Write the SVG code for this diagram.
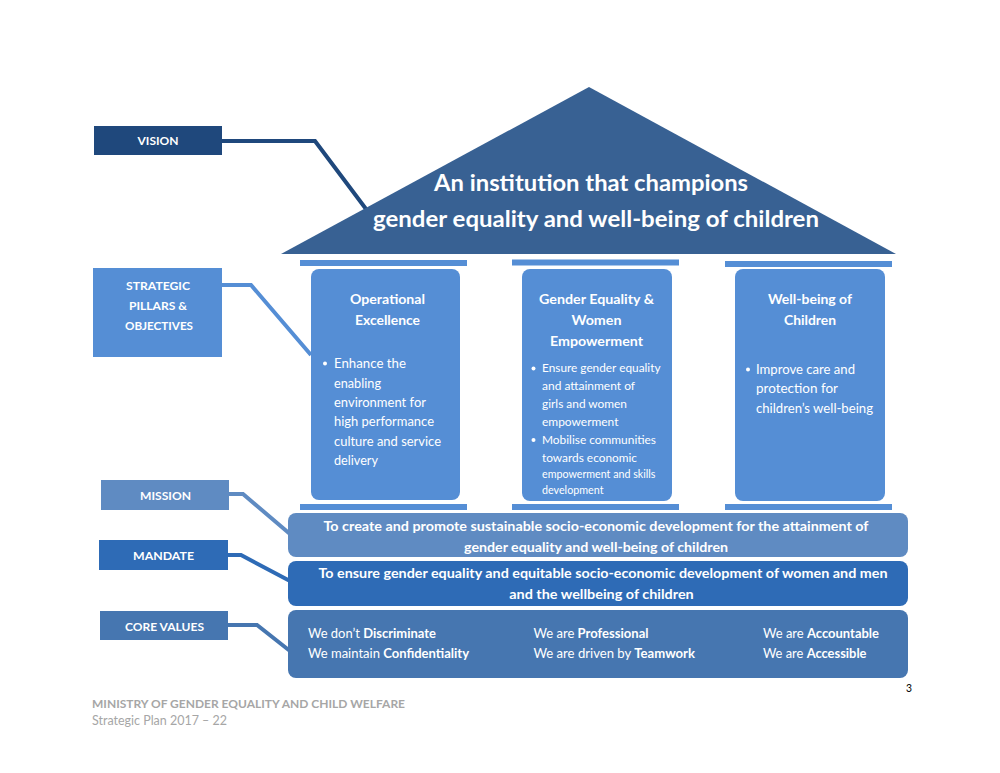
<svg xmlns="http://www.w3.org/2000/svg" width="1000" height="773" viewBox="0 0 1000 773">
<style>
text{font-family:Lato,"Open Sans","Liberation Sans",sans-serif;fill:#fff}
.b{font-weight:bold}
.lab{font-size:11.5px;font-weight:bold;text-anchor:middle}
.pt{font-size:13.5px;font-weight:bold;text-anchor:middle}
.bl{font-size:13px}
.bs{font-size:11.5px}
.bar{font-size:13.5px;font-weight:bold;text-anchor:middle}
.cv{font-size:12.5px}
.conn{fill:none;stroke-width:4;stroke-linejoin:miter}
.pil{fill:#558ED5}
</style>
<rect width="1000" height="773" fill="#fff"/>

<g id="connectors">
<polyline class="conn" stroke="#1F487C" points="221,141 315,141 366,209"/>
<polyline class="conn" stroke="#558ED5" points="222,285 251,285 311,355"/>
<polyline class="conn" stroke="#5F8BC2" points="228,494 243,494 290,534"/>
<polyline class="conn" stroke="#2E6BB6" points="226,555 241,555 290,581"/>
<polyline class="conn" stroke="#4676B0" points="227,625 257,625 290,651"/>
</g>

<g id="roof">
<polygon points="589,87 281,254 896,254" fill="#386193"/>
<text class="b" x="591" y="191" font-size="22" text-anchor="middle" textLength="314" lengthAdjust="spacingAndGlyphs">An institution that champions</text>
<text class="b" x="596" y="227" font-size="22" text-anchor="middle" textLength="446" lengthAdjust="spacingAndGlyphs">gender equality and well-being of children</text>
</g>

<g id="vision">
<rect x="94" y="126" width="128" height="29" fill="#1F487C"/>
<text class="lab" x="158" y="144.5" textLength="41" lengthAdjust="spacingAndGlyphs">VISION</text>
</g>

<g id="strategic">
<rect x="93" y="268" width="129" height="89" fill="#558ED5"/>
<text class="lab" x="158" y="290" textLength="64" lengthAdjust="spacingAndGlyphs">STRATEGIC</text>
<text class="lab" x="158" y="310" textLength="58" lengthAdjust="spacingAndGlyphs">PILLARS &amp;</text>
<text class="lab" x="159" y="329.5" textLength="68" lengthAdjust="spacingAndGlyphs">OBJECTIVES</text>
</g>

<g id="pillar1">
<rect class="pil" x="300" y="260" width="167" height="6"/>
<rect class="pil" x="311" y="269" width="149" height="231" rx="8"/>
<rect class="pil" x="300" y="504" width="167" height="6"/>
<text class="pt" x="387.5" y="304" textLength="75" lengthAdjust="spacingAndGlyphs">Operational</text>
<text class="pt" x="387.5" y="325" textLength="65" lengthAdjust="spacingAndGlyphs">Excellence</text>
<circle cx="325" cy="363.5" r="2" fill="#fff"/>
<text class="bl" x="334" y="367.5" textLength="72" lengthAdjust="spacingAndGlyphs">Enhance  the</text>
<text class="bl" x="334" y="388" textLength="47" lengthAdjust="spacingAndGlyphs">enabling</text>
<text class="bl" x="334" y="407" textLength="92" lengthAdjust="spacingAndGlyphs">environment for</text>
<text class="bl" x="334" y="426" textLength="100" lengthAdjust="spacingAndGlyphs">high performance</text>
<text class="bl" x="334" y="446" textLength="107" lengthAdjust="spacingAndGlyphs">culture and service</text>
<text class="bl" x="334" y="465" textLength="44" lengthAdjust="spacingAndGlyphs">delivery</text>
</g>

<g id="pillar2">
<rect class="pil" x="512" y="259.5" width="167" height="6"/>
<rect class="pil" x="522" y="269" width="150" height="232" rx="8"/>
<rect class="pil" x="512" y="504" width="167" height="6"/>
<text class="pt" x="596.5" y="304" textLength="115" lengthAdjust="spacingAndGlyphs">Gender Equality &amp;</text>
<text class="pt" x="596.5" y="325" textLength="50" lengthAdjust="spacingAndGlyphs">Women</text>
<text class="pt" x="596.5" y="346" textLength="93" lengthAdjust="spacingAndGlyphs">Empowerment</text>
<circle cx="533.5" cy="368.5" r="2" fill="#fff"/>
<text class="bs" x="542" y="372" textLength="118.5" lengthAdjust="spacingAndGlyphs">Ensure gender equality</text>
<text class="bs" x="542" y="390" textLength="93" lengthAdjust="spacingAndGlyphs">and attainment of</text>
<text class="bs" x="542" y="408" textLength="85" lengthAdjust="spacingAndGlyphs">girls and women</text>
<text class="bs" x="542" y="426" textLength="76.5" lengthAdjust="spacingAndGlyphs">empowerment</text>
<circle cx="533.5" cy="440" r="2" fill="#fff"/>
<text class="bs" x="542" y="444" textLength="114" lengthAdjust="spacingAndGlyphs">Mobilise communities</text>
<text class="bs" x="542" y="462" textLength="95" lengthAdjust="spacingAndGlyphs">towards economic</text>
<text class="bs" x="542" y="478" font-size="10.5" textLength="113.5" lengthAdjust="spacingAndGlyphs">empowerment and skills</text>
<text class="bs" x="542" y="493.5" font-size="10.5" textLength="61.5" lengthAdjust="spacingAndGlyphs">development</text>
</g>

<g id="pillar3">
<rect class="pil" x="725" y="261" width="167" height="6"/>
<rect class="pil" x="735" y="269" width="150" height="232" rx="8"/>
<rect class="pil" x="725" y="504" width="167" height="6"/>
<text class="pt" x="810" y="304" textLength="84" lengthAdjust="spacingAndGlyphs">Well-being of</text>
<text class="pt" x="810" y="325" textLength="52" lengthAdjust="spacingAndGlyphs">Children</text>
<circle cx="748" cy="369.5" r="2" fill="#fff"/>
<text class="bl" x="756" y="373.5" textLength="99" lengthAdjust="spacingAndGlyphs">Improve care and</text>
<text class="bl" x="756" y="393" textLength="82" lengthAdjust="spacingAndGlyphs">protection  for</text>
<text class="bl" x="756" y="413" textLength="117" lengthAdjust="spacingAndGlyphs">children’s well-being</text>
</g>

<g id="mission">
<rect x="101" y="480" width="128" height="30" fill="#5F8BC2"/>
<text class="lab" x="165.5" y="499.5" textLength="51" lengthAdjust="spacingAndGlyphs">MISSION</text>
<rect x="288" y="513" width="620" height="44" rx="8" fill="#5F8BC2"/>
<text class="bar" x="596" y="530.5" textLength="545" lengthAdjust="spacingAndGlyphs">To create and promote sustainable socio-economic development for the attainment of</text>
<text class="bar" x="596" y="551.5" textLength="264" lengthAdjust="spacingAndGlyphs">gender equality and well-being of children</text>
</g>

<g id="mandate">
<rect x="99" y="540" width="129" height="30" fill="#2E6BB6"/>
<text class="lab" x="163.5" y="560" textLength="61" lengthAdjust="spacingAndGlyphs">MANDATE</text>
<rect x="288" y="561" width="620" height="45" rx="8" fill="#2E6BB6"/>
<text class="bar" x="603" y="577.5" textLength="569" lengthAdjust="spacingAndGlyphs">To ensure gender equality and equitable socio-economic development of women and men</text>
<text class="bar" x="601.5" y="598.5" textLength="184.5" lengthAdjust="spacingAndGlyphs">and the wellbeing of children</text>
</g>

<g id="corevalues">
<rect x="100" y="611" width="128" height="29" fill="#4676B0"/>
<text class="lab" x="164.5" y="630.5" textLength="79" lengthAdjust="spacingAndGlyphs">CORE VALUES</text>
<rect x="288" y="610" width="620" height="68" rx="8" fill="#4676B0"/>
<text class="cv" x="308" y="638" textLength="128" lengthAdjust="spacingAndGlyphs">We don’t <tspan class="b">Discriminate</tspan></text>
<text class="cv" x="308" y="657.5" textLength="161" lengthAdjust="spacingAndGlyphs">We maintain <tspan class="b">Confidentiality</tspan></text>
<text class="cv" x="533.5" y="638" textLength="115" lengthAdjust="spacingAndGlyphs">We are <tspan class="b">Professional</tspan></text>
<text class="cv" x="533.5" y="657.5" textLength="161.5" lengthAdjust="spacingAndGlyphs">We are driven by <tspan class="b">Teamwork</tspan></text>
<text class="cv" x="763" y="638" textLength="116" lengthAdjust="spacingAndGlyphs">We are <tspan class="b">Accountable</tspan></text>
<text class="cv" x="763" y="657.5" textLength="103.5" lengthAdjust="spacingAndGlyphs">We are <tspan class="b">Accessible</tspan></text>
</g>

<g id="footer">
<text x="906" y="692" font-size="12" style="fill:#000" textLength="6" lengthAdjust="spacingAndGlyphs">3</text>
<text x="92" y="708" font-size="12" font-weight="bold" style="fill:#A6A6A6" textLength="313" lengthAdjust="spacingAndGlyphs">MINISTRY OF GENDER EQUALITY AND CHILD WELFARE</text>
<text x="92" y="725" font-size="12.5" style="fill:#A6A6A6" textLength="135" lengthAdjust="spacingAndGlyphs">Strategic Plan 2017 – 22</text>
</g>
</svg>
